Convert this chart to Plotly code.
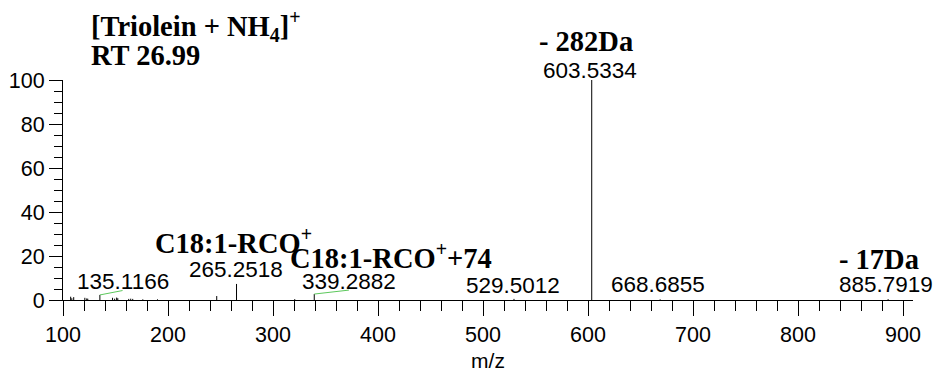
import plotly.graph_objects as go

# ---- data ----
peak_mz = [107.3, 108.4, 110.2, 120.8, 122.6, 123.6, 135.1166, 147.2, 149.2,
           151.1, 152.2, 162.6, 164.5, 166.4, 176.0, 190.0, 246.4, 265.2518,
           320.7, 339.2882, 529.5012, 603.5334, 668.6855, 885.7919]
peak_int = [1.5, 0.8, 1.3, 1.0, 0.7, 0.6, 2.3, 1.0, 0.6,
            1.1, 0.8, 0.5, 0.6, 0.5, 0.3, 0.3, 1.8, 7.3,
            0.4, 2.7, 0.5, 100.0, 0.3, 0.4]
labeled_mz = [135.1166, 265.2518, 339.2882, 529.5012, 603.5334, 668.6855, 885.7919]
ion_labels = [("- 282Da", 603.5334),
              ("C18:1-RCO<sup>+</sup>", 265.2518),
              ("C18:1-RCO<sup>+</sup>+74", 339.2882),
              ("- 17Da", 885.7919)]
leader_mz = [135.1166, 339.2882]
x_ticks = [100, 200, 300, 400, 500, 600, 700, 800, 900]
y_ticks = [0, 20, 40, 60, 80, 100]

# ---- style ----
num_font = dict(family="Liberation Sans, Arial", size=22.5, color="black")
tick_font = dict(family="Liberation Sans, Arial", size=21.5, color="black")
bold_font = dict(family="Liberation Serif, Times New Roman", size=28.5, color="black")
label_shift = {135.1166: (23, 13), 265.2518: (-1, 14), 339.2882: (35, 13),
               529.5012: (-1, 13), 603.5334: (-2, 10), 668.6855: (-2, 15),
               885.7919: (-2, 15)}
ion_shift = {"- 282Da": (-6, 39), "C18:1-RCO<sup>+</sup>": (-3, 43),
             "C18:1-RCO<sup>+</sup>+74": (77, 38), "- 17Da": (-9, 40)}
leader_offset = {135.1166: (21.6, 2.0), 339.2882: (33.0, 1.8)}

intensity = dict(zip(peak_mz, peak_int))

# stick spectrum
xs, ys = [], []
for m, i in zip(peak_mz, peak_int):
    xs += [m, m, None]
    ys += [0, i, None]

fig = go.Figure()
fig.add_trace(go.Scatter(x=xs, y=ys, mode="lines",
                         line=dict(color="black", width=1),
                         hoverinfo="skip", showlegend=False))

# green leader lines
for m in leader_mz:
    dx, dy = leader_offset[m]
    fig.add_trace(go.Scatter(x=[m, m + dx], y=[intensity[m], intensity[m] + dy],
                             mode="lines", line=dict(color="#5cc85c", width=1),
                             hoverinfo="skip", showlegend=False, cliponaxis=False))

annotations = []
for m in labeled_mz:
    xsft, ysft = label_shift[m]
    annotations.append(dict(x=m, y=intensity[m], xref="x", yref="y",
                            text=f"{m:.4f}", showarrow=False, font=num_font,
                            xanchor="center", yanchor="middle",
                            xshift=xsft, yshift=ysft))
for txt, m in ion_labels:
    xsft, ysft = ion_shift[txt]
    annotations.append(dict(x=m, y=intensity[m], xref="x", yref="y",
                            text=f"<b>{txt}</b>", showarrow=False, font=bold_font,
                            xanchor="center", yanchor="middle",
                            xshift=xsft, yshift=ysft))
annotations.append(dict(x=0.031, y=1.245, xref="paper", yref="paper",
                        text="<b>[Triolein + NH<sub>4</sub>]<sup>+</sup></b>",
                        showarrow=False, font=bold_font,
                        xanchor="left", yanchor="middle"))
annotations.append(dict(x=0.031, y=1.11, xref="paper", yref="paper",
                        text="<b>RT 26.99</b>", showarrow=False, font=bold_font,
                        xanchor="left", yanchor="middle"))

fig.update_layout(
    width=940, height=372, autosize=False,
    margin=dict(l=63, r=27, t=80, b=72),
    plot_bgcolor="white", paper_bgcolor="white",
    annotations=annotations,
    xaxis=dict(range=[100, 909.5], tickvals=x_ticks, ticks="outside",
               ticklen=15, tickcolor="black", tickwidth=1, automargin=False,
               showline=True, linecolor="black", linewidth=1,
               showgrid=False, zeroline=False, tickfont=tick_font,
               minor=dict(dtick=20, tick0=100, ticks="outside", ticklen=10,
                          tickcolor="black", tickwidth=1, showgrid=False),
               title=dict(text="m/z", font=dict(family="Liberation Sans, Arial",
                                                size=21, color="black"),
                          standoff=8)),
    yaxis=dict(range=[0, 100], tickvals=y_ticks, ticks="outside",
               ticklen=13, tickcolor="black", tickwidth=1, automargin=False,
               showline=True, linecolor="black", linewidth=1,
               showgrid=False, zeroline=False, tickfont=tick_font,
               minor=dict(dtick=5, ticks="outside", ticklen=8,
                          tickcolor="black", tickwidth=1, showgrid=False)),
)

fig.write_html("out.html", config={"displayModeBar": False},
               post_script="document.body.style.margin='0';"
                           "document.body.style.overflow='hidden';")
